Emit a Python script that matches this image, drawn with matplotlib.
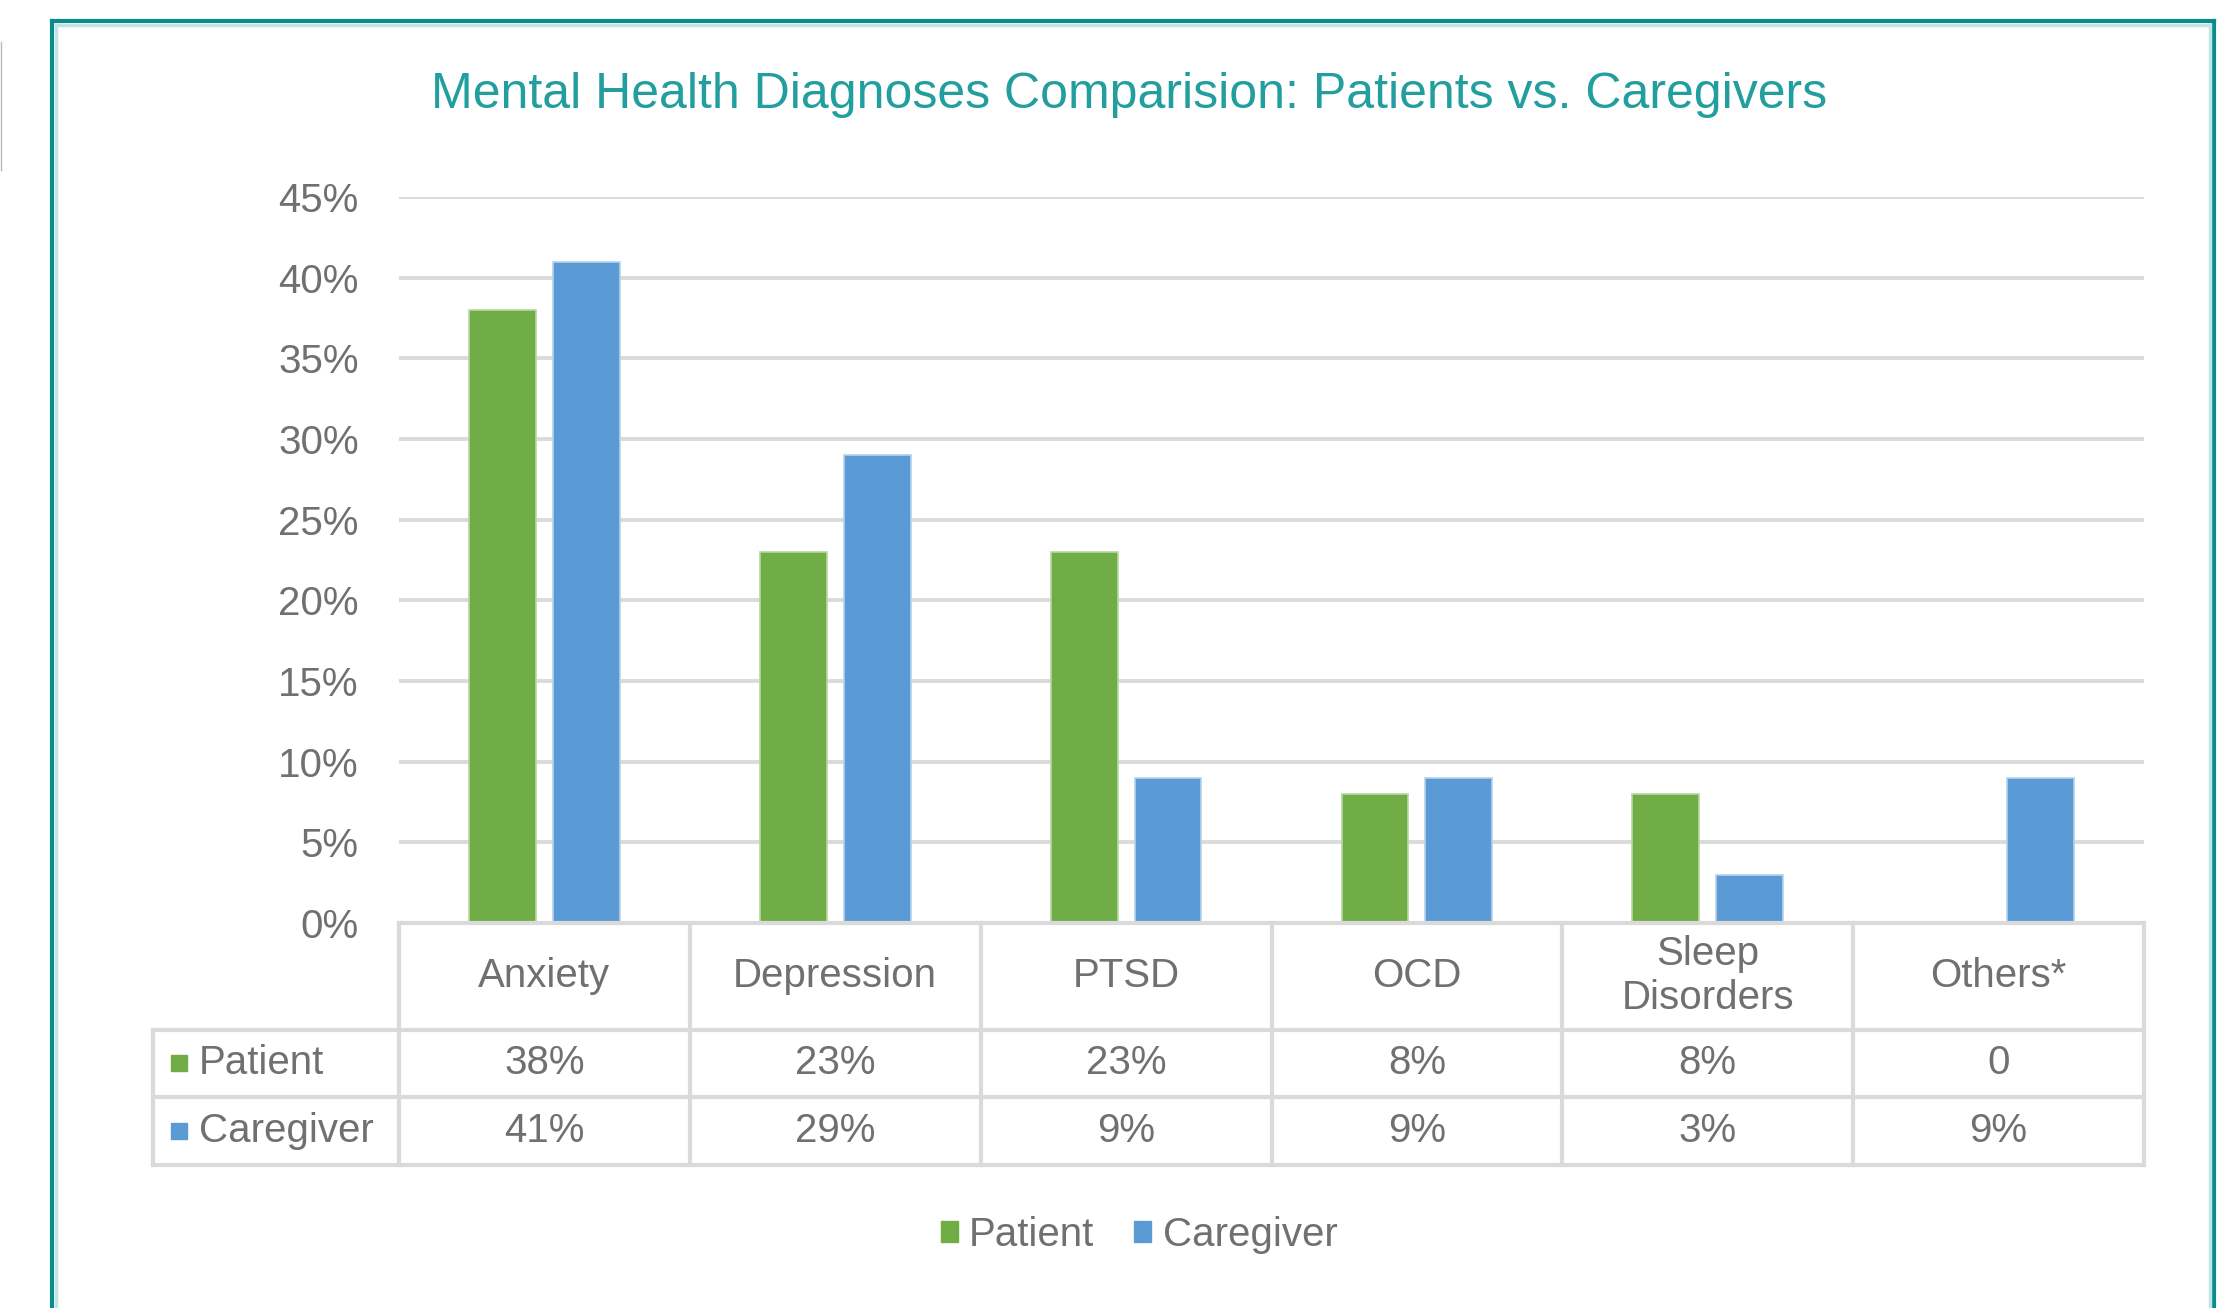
import matplotlib
matplotlib.use("Agg")
import matplotlib.pyplot as plt
from matplotlib.lines import Line2D
from matplotlib.patches import Patch
import numpy as np

# data
categories = ["Anxiety", "Depression", "PTSD", "OCD", "Sleep\nDisorders", "Others*"]
patient = [38, 23, 23, 8, 8, 0]
caregiver = [41, 29, 9, 9, 3, 9]
series_names = ["Patient", "Caregiver"]
yticks = [0, 5, 10, 15, 20, 25, 30, 35, 40, 45]
title = "Mental Health Diagnoses Comparision: Patients vs. Caregivers"

GREEN = "#70AD47"
BLUE = "#5B9BD5"
TEAL = "#0B8C8C"
TEAL_LIGHT = "#C3E4E4"
TITLE_C = "#229E9E"
GRID = "#DADADA"
TXT = "#707070"

plt.rcParams["font.family"] = ["Liberation Sans", "DejaVu Sans"]

W, H = 2219, 1308
fig = plt.figure(figsize=(W / 100, H / 100), dpi=100)


def fx(px):
    return px / W


def fy(py):
    return 1 - py / H


# plot box (pixels)
L, R, T, B = 399, 2144, 197, 923
ax = fig.add_axes([fx(L), fy(B), fx(R - L), (B - T) / H])

x = np.arange(len(categories))
bw, off = 0.23, 0.144
ax.bar(x - off, patient, bw, color=GREEN, edgecolor="#B5D8A0", lw=1.2, zorder=3)
ax.bar(x + off, caregiver, bw, color=BLUE, edgecolor="#B4D2EE", lw=1.2, zorder=3)
ax.set_xlim(-0.5, len(categories) - 0.5)
ax.set_ylim(0, 45)
ax.set_yticks(yticks)
ax.set_yticklabels([f"{t}%" for t in yticks])
ax.yaxis.grid(True, color=GRID, lw=2.8, zorder=0)
ax.set_axisbelow(True)
ax.tick_params(axis="y", length=0, pad=29, labelsize=29, labelcolor=TXT)
ax.set_xticks([])
for s in ax.spines.values():
    s.set_visible(False)

# data table under the plot
TL, TB = 153, 1165
rows_y = [923, 1030, 1097, 1165]
col_w = (R - L) / len(categories)
lab_w = (L - TL) / col_w
tax = fig.add_axes([fx(TL), fy(TB), fx(R - TL), (TB - B) / H])
x0 = -0.5 - lab_w
xe = len(categories) - 0.5
tax.set_xlim(x0, xe)
tax.set_ylim(TB, B)
tax.axis("off")

lk = dict(color=GRID, lw=3, solid_capstyle="projecting", clip_on=False)
tax.plot([-0.5, xe], [rows_y[0]] * 2, **lk)
for yy in rows_y[1:]:
    tax.plot([x0, xe], [yy] * 2, **lk)
for i in range(len(categories) + 1):
    tax.plot([i - 0.5] * 2, [rows_y[0], rows_y[-1]], **lk)
tax.plot([x0] * 2, [rows_y[1], rows_y[-1]], **lk)

hdr_y = (rows_y[0] + rows_y[1]) / 2
for i, c in enumerate(categories):
    tax.text(i, hdr_y, c, ha="center", va="center", fontsize=29, color=TXT,
             linespacing=1.2)

for r, (name, vals, col) in enumerate(zip(series_names, [patient, caregiver], [GREEN, BLUE])):
    yc = (rows_y[r + 1] + rows_y[r + 2]) / 2
    tax.plot([x0 + 26 / col_w], [yc], marker="s", ms=12, color=col, clip_on=False)
    tax.text(x0 + 46 / col_w, yc, name, ha="left", va="center", fontsize=29, color=TXT)
    for i, v in enumerate(vals):
        tax.text(i, yc, f"{v}%" if v else "0", ha="center", va="center",
                 fontsize=29, color=TXT)

# title
fig.text(fx(1129), fy(95), title, ha="center", va="center", fontsize=36, color=TITLE_C)

# legend
fig.legend(handles=[Patch(color=GREEN), Patch(color=BLUE)], labels=series_names,
           loc="center", bbox_to_anchor=(fx(1139), fy(1235)), ncol=2, frameon=False,
           fontsize=29, handlelength=0.42, handleheight=0.42, handletextpad=0.28,
           columnspacing=1.0, labelcolor=TXT)

# teal frame around the chart
fig.add_artist(Line2D([fx(52), fx(52)], [fy(21), 0], color=TEAL, lw=3))
fig.add_artist(Line2D([fx(56), fx(56)], [fy(25), 0], color=TEAL_LIGHT, lw=2.5))
fig.add_artist(Line2D([fx(52), fx(2214)], [fy(21), fy(21)], color=TEAL, lw=3))
fig.add_artist(Line2D([fx(56), fx(2210)], [fy(25), fy(25)], color=TEAL_LIGHT, lw=2.5))
fig.add_artist(Line2D([fx(2214), fx(2214)], [fy(21), 0], color=TEAL, lw=3))
fig.add_artist(Line2D([fx(2210), fx(2210)], [fy(25), 0], color=TEAL_LIGHT, lw=2.5))
fig.add_artist(Line2D([fx(1), fx(1)], [fy(42), fy(170)], color="#BBBBBB", lw=1))

fig.savefig("out.png", dpi=100)
